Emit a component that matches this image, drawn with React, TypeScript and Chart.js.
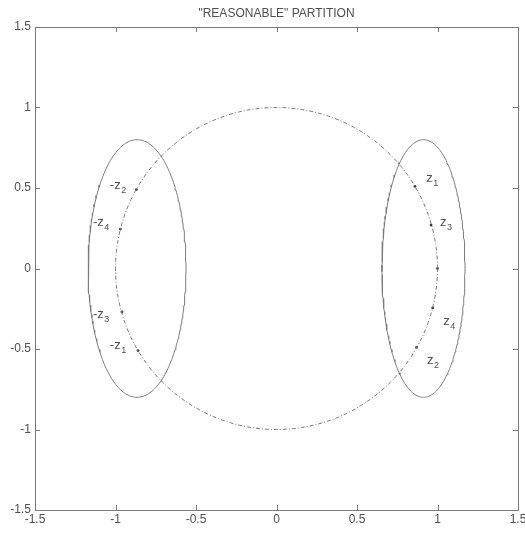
import { useEffect, useRef } from "react";
import { Chart, registerables } from "chart.js";

Chart.register(...registerables);

const TITLE = '"REASONABLE" PARTITION';

// Axis ticks
const xTickValues = [-1.5, -1, -0.5, 0, 0.5, 1, 1.5];
const xTickLabels = ["-1.5", "-1", "-0.5", "0", "0.5", "1", "1.5"];
const yTickValues = [-1.5, -1, -0.5, 0, 0.5, 1, 1.5];
const yTickLabels = ["-1.5", "-1", "-0.5", "0", "0.5", "1", "1.5"];

// Unit circle (dash-dot)
const circleRadius = 1;

// Partition ellipses: left and right
const ellipseCenterX = [-0.866, 0.913];
const ellipseCenterY = [0, 0];
const ellipseSemiX = [0.304, 0.258];
const ellipseSemiY = [0.8, 0.8];

// Points on the unit circle
const rightPointX = [0.86, 0.96, 1.0, 0.97, 0.87];
const rightPointY = [0.51, 0.27, 0.0, -0.245, -0.49];
const leftPointX = [-0.87, -0.97, -0.96, -0.86];
const leftPointY = [0.49, 0.245, -0.27, -0.51];

// Point labels: text, subscript, anchor (left edge, vertical middle)
const labelText = ["z", "z", "z", "z", "-z", "-z", "-z", "-z"];
const labelSub = ["1", "3", "4", "2", "2", "4", "3", "1"];
const labelX = [0.93, 1.015, 1.035, 0.935, -1.035, -1.14, -1.14, -1.035];
const labelY = [0.56, 0.29, -0.325, -0.57, 0.52, 0.29, -0.28, -0.475];

const FONT = '"Liberation Sans", Arial, Helvetica, sans-serif';
const TEXT_COLOR = "#505050";
const LINE_COLOR = "#7a7a7a";

function curve(cx: number, cy: number, rx: number, ry: number, n = 240) {
  const pts: { x: number; y: number }[] = [];
  for (let i = 0; i <= n; i++) {
    const t = (i / n) * Math.PI * 2;
    pts.push({ x: cx + rx * Math.cos(t), y: cy + ry * Math.sin(t) });
  }
  return pts;
}

const axesPlugin = {
  id: "matlabAxes",
  afterDatasetsDraw(chart: any) {
    const { ctx, chartArea } = chart;
    const xs = chart.scales.x;
    const ys = chart.scales.y;
    const { left, right, top, bottom } = chartArea;
    const tickLen = 5;
    ctx.save();
    ctx.strokeStyle = LINE_COLOR;
    ctx.lineWidth = 1;
    ctx.beginPath();
    ctx.rect(Math.round(left) + 0.5, Math.round(top) + 0.5, Math.round(right - left), Math.round(bottom - top));
    ctx.stroke();

    ctx.beginPath();
    xTickValues.forEach((v) => {
      const px = Math.round(xs.getPixelForValue(v)) + 0.5;
      ctx.moveTo(px, bottom);
      ctx.lineTo(px, bottom - tickLen);
      ctx.moveTo(px, top);
      ctx.lineTo(px, top + tickLen);
    });
    yTickValues.forEach((v) => {
      const py = Math.round(ys.getPixelForValue(v)) + 0.5;
      ctx.moveTo(left, py);
      ctx.lineTo(left + tickLen, py);
      ctx.moveTo(right, py);
      ctx.lineTo(right - tickLen, py);
    });
    ctx.stroke();

    // tick labels
    ctx.fillStyle = TEXT_COLOR;
    ctx.font = `12px ${FONT}`;
    ctx.textAlign = "center";
    ctx.textBaseline = "top";
    xTickValues.forEach((v, i) => {
      ctx.fillText(xTickLabels[i], xs.getPixelForValue(v), bottom + 4);
    });
    ctx.textAlign = "right";
    ctx.textBaseline = "middle";
    yTickValues.forEach((v, i) => {
      ctx.fillText(yTickLabels[i], left - 4, ys.getPixelForValue(v));
    });

    // title
    ctx.font = `12px ${FONT}`;
    ctx.textAlign = "center";
    ctx.textBaseline = "alphabetic";
    ctx.fillText(TITLE, (left + right) / 2, top - 10);

    // point labels with subscripts
    ctx.textAlign = "left";
    labelText.forEach((t, i) => {
      const px = xs.getPixelForValue(labelX[i]);
      const py = ys.getPixelForValue(labelY[i]);
      ctx.font = `13px ${FONT}`;
      ctx.textBaseline = "alphabetic";
      ctx.fillText(t, px, py + 4);
      const w = ctx.measureText(t).width;
      ctx.font = `9px ${FONT}`;
      ctx.fillText(labelSub[i], px + w + 0.5, py + 8);
    });
    ctx.restore();
  },
};

export default function App() {
  const canvasRef = useRef<HTMLCanvasElement | null>(null);

  useEffect(() => {
    const canvas = canvasRef.current;
    if (!canvas) return;

    const circle = curve(0, 0, circleRadius, circleRadius);
    const ellipses = ellipseCenterX.map((cx, i) =>
      curve(cx, ellipseCenterY[i], ellipseSemiX[i], ellipseSemiY[i])
    );
    const points = [
      ...rightPointX.map((x, i) => ({ x, y: rightPointY[i] })),
      ...leftPointX.map((x, i) => ({ x, y: leftPointY[i] })),
    ];

    const lineDs = (data: { x: number; y: number }[], dash: number[]) => ({
      type: "scatter" as const,
      data,
      showLine: true,
      borderColor: LINE_COLOR,
      borderWidth: 1,
      borderDash: dash,
      pointRadius: 0,
      tension: 0,
      fill: false,
    });

    const chart = new Chart(canvas, {
      type: "scatter",
      data: {
        datasets: [
          lineDs(circle, [4, 2, 1, 2]),
          lineDs(ellipses[0], []),
          lineDs(ellipses[1], []),
          {
            type: "scatter",
            data: points,
            pointRadius: 1.4,
            pointBackgroundColor: "#3a3a3a",
            pointBorderWidth: 0,
            showLine: false,
          },
        ],
      },
      options: {
        responsive: false,
        animation: false,
        layout: { padding: { left: 35, right: 7, top: 27, bottom: 26 } },
        plugins: { legend: { display: false }, tooltip: { enabled: false }, title: { display: false } },
        scales: {
          x: { type: "linear", min: -1.5, max: 1.5, display: false },
          y: { type: "linear", min: -1.5, max: 1.5, display: false },
        },
      },
      plugins: [axesPlugin],
    });
    return () => chart.destroy();
  }, []);

  return (
    <div style={{ position: "fixed", left: 0, top: 0, width: 525, height: 536, background: "#fff" }}>
      <canvas ref={canvasRef} width={525} height={536} style={{ width: 525, height: 536, display: "block" }} />
    </div>
  );
}
